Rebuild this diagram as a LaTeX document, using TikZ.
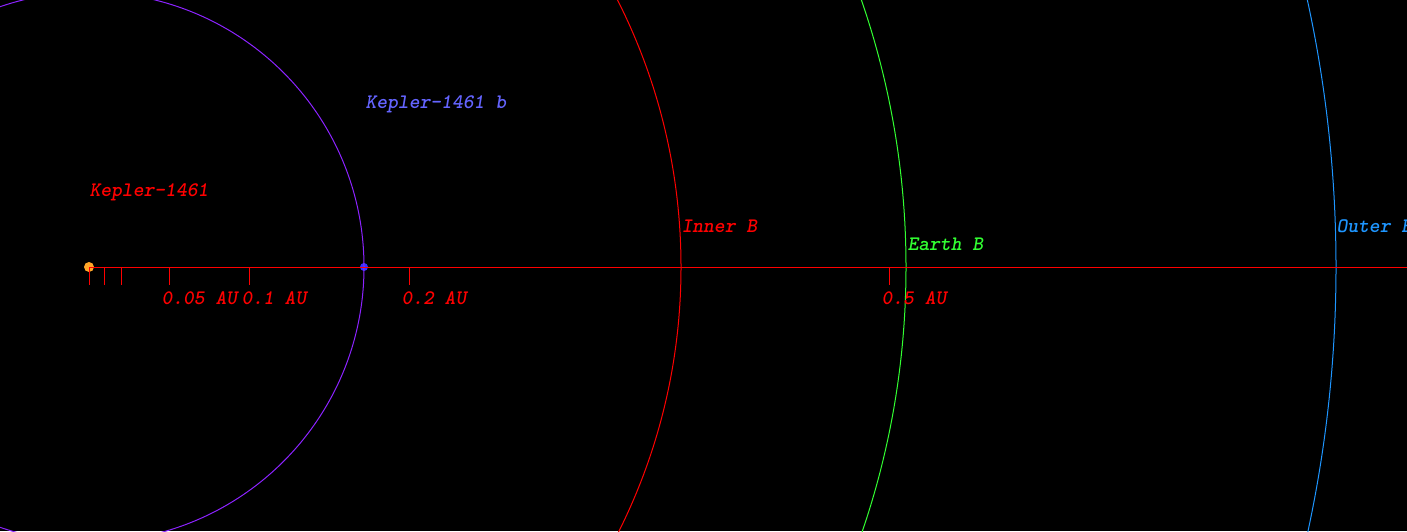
\documentclass[tikz,border=0pt]{standalone}
\usepackage{fontspec}
\usepackage{tikz}

\definecolor{starorange}{RGB}{255,165,40}
\definecolor{planetblue}{RGB}{50,50,255}
\definecolor{labelblue}{RGB}{100,100,255}
\definecolor{orbitpurple}{RGB}{140,35,255}
\definecolor{innerred}{RGB}{255,0,0}
\definecolor{earthgreen}{RGB}{50,255,50}
\definecolor{outerblue}{RGB}{30,150,255}

\begin{document}
\begin{tikzpicture}[x=1pt, y=-1pt, line width=1pt, every node/.style={font=\ttfamily\fontsize{20.6}{21}\selectfont\bfseries\slshape, inner sep=0pt, anchor=base west}]
      \fill[black] (0,0) rectangle (1407,531);
      \useasboundingbox (0,0) rectangle (1407,531);
      \clip (0,0) rectangle (1407,531);

      % star and planet
      \coordinate (star) at (89,267);
      \fill[starorange] (star) circle (5);
      \coordinate (planet) at (364,267);
      \fill[planetblue] (planet) circle (4);

      % orbits (1600 px per AU)
      \draw[orbitpurple] (star) circle (275);
      \draw[innerred] (star) circle (592);
      \draw[earthgreen] (star) circle (817);
      \draw[outerblue] (star) circle (1247);

      % scale
      \draw[innerred] (star) -- (1407,267);
      \foreach \au in {0,0.01,0.02,0.05,0.1,0.2,0.5}
        \draw[innerred] (89+\au*1600,267) -- ++(0,18);

      \node[text=innerred] (starname) at (89,196) {Kepler-1461};
      \node[text=labelblue] (planetname) at (365,108) {Kepler-1461 b};
      \node[text=innerred] (inner) at (681,232) {Inner B};
      \node[text=earthgreen] (earth) at (907,250) {Earth B};
      \node[text=outerblue] (outer) at (1336,232) {Outer B};

      \node[text=innerred] (au005) at (161,304) {0.05 AU};
      \node[text=innerred] (au01) at (241,304) {0.1 AU};
      \node[text=innerred] (au02) at (401,304) {0.2 AU};
      \node[text=innerred] (au05) at (881,304) {0.5 AU};
    \end{tikzpicture}
\end{document}
